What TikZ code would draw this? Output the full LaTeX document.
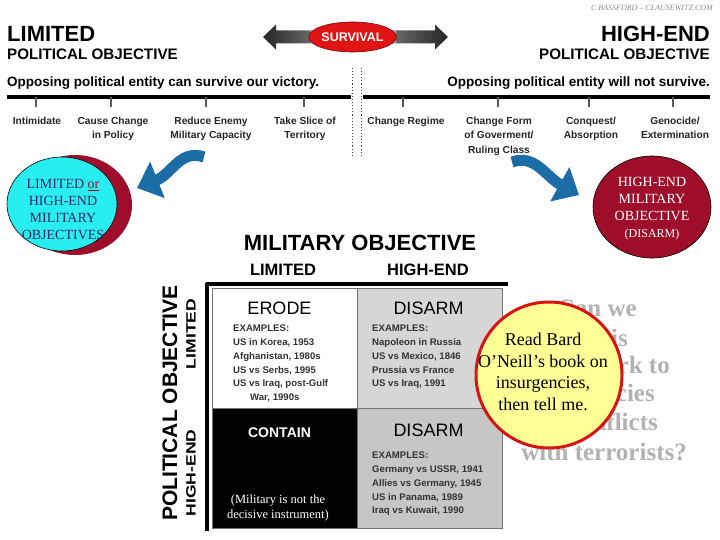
\documentclass[tikz,border=0pt]{standalone}
\usepackage{fontspec}
\setmainfont{Liberation Serif}
\setsansfont{Liberation Sans}
\usetikzlibrary{arrows.meta,shapes.geometric}
\definecolor{darkred}{RGB}{158,14,42}
\definecolor{cyanfill}{RGB}{40,238,242}
\definecolor{arrowblue}{RGB}{28,108,165}
\definecolor{survred}{RGB}{225,20,20}
\definecolor{cellgray}{RGB}{214,214,214}
\definecolor{cellgrayb}{RGB}{198,198,198}
\definecolor{ghost}{RGB}{178,178,178}
\definecolor{yellowfill}{RGB}{255,255,150}
\definecolor{circred}{RGB}{215,20,20}
\definecolor{purpletext}{RGB}{55,40,95}
\newcommand\fsz[2]{\fontsize{#1}{#2}\selectfont}
\begin{document}
\begin{tikzpicture}[x=1pt,y=-1pt,
  hdbig/.style={font=\sffamily\bfseries\fsz{22}{26}, inner sep=0},
  hdsub/.style={font=\sffamily\bfseries\fsz{15.2}{18}, inner sep=0},
  opp/.style={font=\sffamily\bfseries\fsz{13.5}{16}, inner sep=0},
  tickline/.style={line width=1.3, black!65},
  scalelbl/.style={font=\sffamily\bfseries\fsz{10.2}{14.5}, align=center, inner sep=0, anchor=north, text=black!85},
  dotline/.style={dotted, line width=1.1, black!75},
  bluearrow/.style={arrowblue, line width=11, -{Triangle[length=22pt,width=38pt]}},
  cell/.style={draw=black!55, line width=0.8},
  celltitle/.style={font=\sffamily\fsz{18}{21}, inner sep=0},
  ex/.style={font=\sffamily\bfseries\fsz{9.6}{11}, anchor=base west, inner sep=0, text=black!80},
  axhead/.style={font=\sffamily\bfseries\fsz{16.5}{19}, inner sep=0, anchor=base},
  rothead/.style={font=\sffamily\bfseries\fsz{13.5}{16}, inner sep=0, rotate=90},
  ghostline/.style={text=ghost, font=\rmfamily\bfseries\fsz{25}{29}, inner sep=0, anchor=base east},
]
\useasboundingbox (0,0) rectangle (720,540);
\fill[white] (0,0) rectangle (720,540);

% watermark
\node[anchor=east, font=\rmfamily\itshape\fsz{8}{9}, text=black!45, inner sep=0] (wm) at (713,8) {C BASSFORD -- CLAUSEWITZ.COM};

% headers
\node[hdbig, anchor=base west] (limhd) at (7,42) {LIMITED};
\node[hdsub, anchor=base west] (limsub) at (7,60) {POLITICAL OBJECTIVE};
\node[hdbig, anchor=base east] (hihd) at (710,42) {HIGH-END};
\node[hdsub, anchor=base east] (hisub) at (710,60) {POLITICAL OBJECTIVE};
\node[opp, anchor=base west] (oppl) at (7,87) {Opposing political entity can survive our victory.};
\node[opp, anchor=base east] (oppr) at (710,87) {Opposing political entity will not survive.};

% survival double arrow
\shade[left color=black!85, right color=black!55] (263,37) -- (276,24.5) -- (276,30.5) -- (320,30.5) -- (320,43.5) -- (276,43.5) -- (276,49.5) -- cycle;
\shade[left color=black!55, right color=black!85] (448,37) -- (435,24.5) -- (435,30.5) -- (385,30.5) -- (385,43.5) -- (435,43.5) -- (435,49.5) -- cycle;
\fill[black!30] (310,30.5) rectangle (320,43.5);
\fill[black!30] (385,30.5) rectangle (396,43.5);
\node[ellipse, fill=survred, draw=darkred!70!black, line width=0.6, minimum width=71, minimum height=30, inner sep=0, text=white, font=\sffamily\bfseries\fsz{12.5}{14}] (surv) at (352.5,37) {SURVIVAL};

% scale line
\draw[line width=3.5] (7,97) -- (351,97);
\draw[line width=3.5] (363,97) -- (710,97);
\foreach \x in {36,111,206,304,403,498,589,673} \draw[tickline] (\x,97) -- (\x,107);
\draw[dotline] (352.5,68) -- (352.5,155);
\draw[dotline] (361.5,68) -- (361.5,155);

\node[scalelbl] (l1) at (37,116.5) {Intimidate};
\node[scalelbl] (l2) at (113,116.5) {Cause Change\\in Policy};
\node[scalelbl] (l3) at (211,116.5) {Reduce Enemy\\Military Capacity};
\node[scalelbl] (l4) at (305,116.5) {Take Slice of\\Territory};
\node[scalelbl] (r1) at (406,116.5) {Change Regime};
\node[scalelbl] (r2) at (499,116.5) {Change Form\\of Goverment/\\Ruling Class};
\node[scalelbl] (r3) at (591,116.5) {Conquest/\\Absorption};
\node[scalelbl] (r4) at (675,116.5) {Genocide/\\Extermination};

% blue arrows
\draw[bluearrow] (204,157) .. controls (180,149) and (172,174) .. (137,188);
\draw[bluearrow] (512,162) .. controls (535,154) and (545,176) .. (579,195);

% left circle
\fill[darkred] (75,205) ellipse [x radius=57, y radius=50];
\node[ellipse, draw=black, line width=0.6, fill=cyanfill, minimum width=110, minimum height=94, inner sep=0] (limcirc) at (62,204) {};
\node[align=center, text=purpletext, font=\rmfamily\fsz{14}{17}, inner sep=0] (limtxt) at (63,209.5) {LIMITED \textcolor{darkred}{\underline{or}}\\HIGH-END\\MILITARY\\OBJECTIVES};

% right circle
\node[ellipse, draw=black, line width=0.6, fill=darkred, minimum width=118, minimum height=102, inner sep=0] (hicirc) at (652,207) {};
\node[align=center, text=white, font=\rmfamily\fsz{14}{17}, inner sep=0] (hitxt) at (652,209) {HIGH-END\\MILITARY\\OBJECTIVE\\{\fsz{12}{15}(DISARM)}};

% matrix headings
\node[font=\sffamily\bfseries\fsz{22}{26}, inner sep=0, anchor=base] (milobj) at (360,250) {MILITARY OBJECTIVE};
\node[axhead] (mlim) at (283,275) {LIMITED};
\node[axhead] (mhi) at (428,275) {HIGH-END};
\node[font=\sffamily\bfseries\fsz{21}{24}, inner sep=0, rotate=90] (polobj) at (170,403) {POLITICAL OBJECTIVE};
\node[rothead] (plim) at (191,334) {\scalebox{1.3}[1]{LIMITED}};
\node[rothead] (phi) at (191,473) {\scalebox{1.3}[1]{HIGH-END}};

% matrix
\draw[line width=3.5] (205.5,284) -- (508,284);
\draw[line width=3.5] (207,282.5) -- (207,531);
\filldraw[cell, fill=white] (212,288) rectangle (357,408);
\filldraw[cell, fill=cellgray] (357,288) rectangle (502,408);
\filldraw[cell, fill=black] (212,408) rectangle (357,528);
\filldraw[cell, fill=cellgrayb] (357,408) rectangle (502,528);

\node[celltitle] (erode) at (279.5,308) {ERODE};
\node[celltitle] (disarm1) at (428.5,308) {DISARM};
\node[celltitle] (disarm2) at (428.5,430) {DISARM};
\node[font=\sffamily\bfseries\fsz{14}{16}, inner sep=0, text=white] (contain) at (279.5,433) {CONTAIN};
\node[align=center, text=white, font=\rmfamily\fsz{12.5}{15}, inner sep=0] (mil) at (278,507.5) {(Military is not the\\decisive instrument)};

\foreach \yy/\t in {331.5/{EXAMPLES:}, 345.5/{US in Korea, 1953}, 359.5/{Afghanistan, 1980s}, 373/{US vs Serbs, 1995}, 386.5/{US vs Iraq, post-Gulf}}
  \node[ex] at (233,\yy) {\t};
\node[ex] (war) at (250,400.5) {War, 1990s};
\foreach \yy/\t in {331.5/{EXAMPLES:}, 345.5/{Napoleon in Russia}, 359.5/{US vs Mexico, 1846}, 373/{Prussia vs France}, 386.5/{US vs Iraq, 1991}}
  \node[ex] at (372,\yy) {\t};
\foreach \yy/\t in {458.5/{EXAMPLES:}, 472.5/{Germany vs USSR, 1941}, 486.5/{Allies vs Germany, 1945}, 500.5/{US in Panama, 1989}, 513.5/{Iraq vs Kuwait, 1990}}
  \node[ex] at (372,\yy) {\t};

% ghost question (partly hidden by the yellow circle)
\node[ghostline] (g1) at (637,316) {Can we};
\node[ghostline] (g2) at (628,346) {apply this};
\node[ghostline] (g3) at (670,373) {framework to};
\node[ghostline] (g4) at (655,401) {insurgencies};
\node[ghostline] (g5) at (658,430) {and conflicts};
\node[ghostline] (g6) at (687,460) {with terrorists?};

% yellow circle
\node[circle, draw=circred, line width=3, fill=yellowfill, minimum size=146, inner sep=0] (bard) at (549,375) {};
\node[align=center, font=\rmfamily\fsz{18}{21.5}, inner sep=0] (bardtxt) at (543,372) {Read Bard\\O’Neill’s book on\\insurgencies,\\then tell me.};
\end{tikzpicture}
\end{document}
